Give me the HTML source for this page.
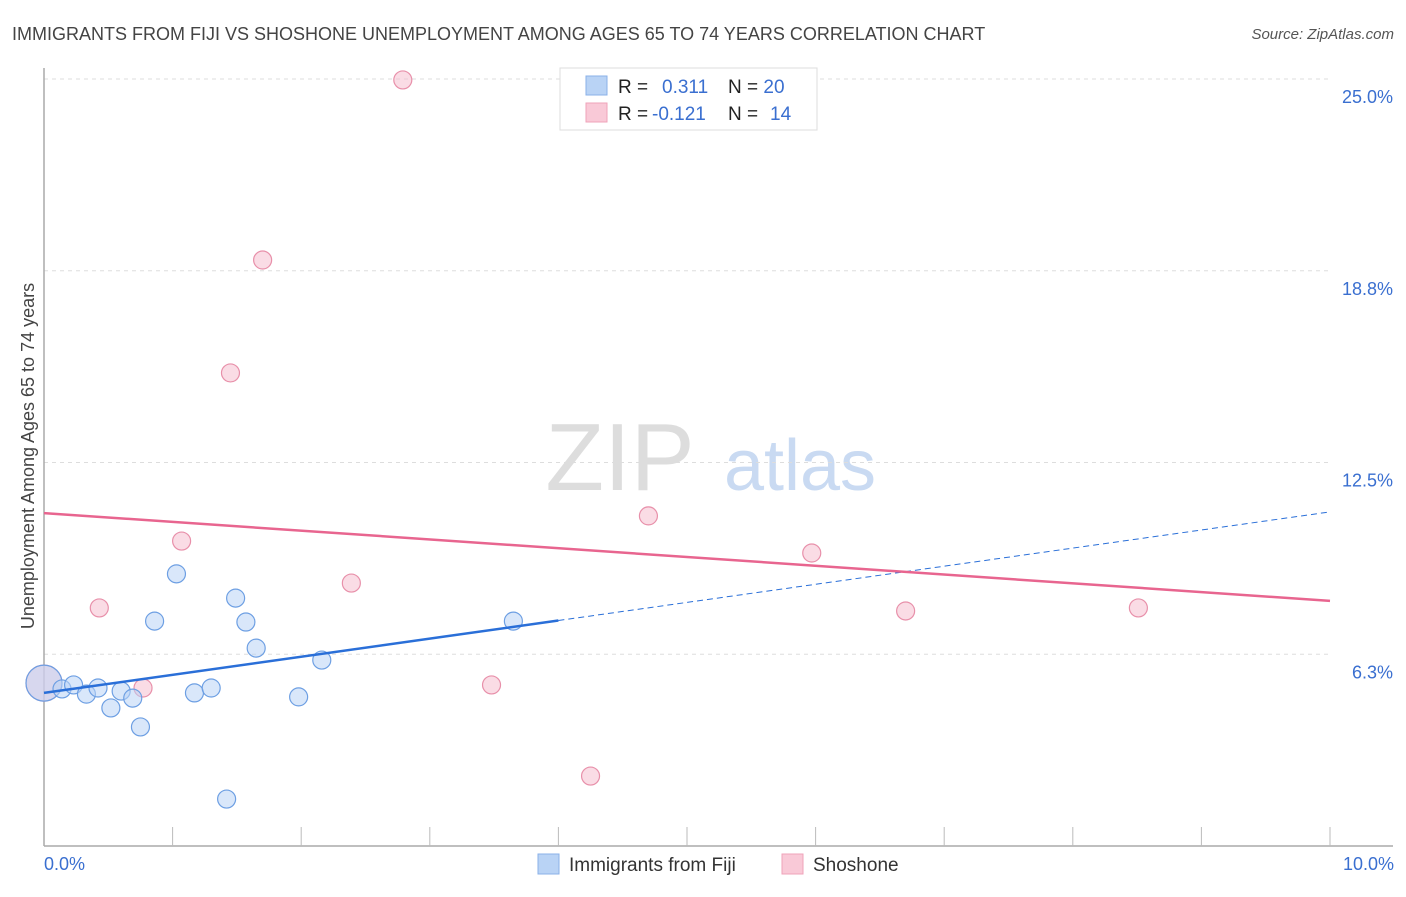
<!DOCTYPE html>
<html><head><meta charset="utf-8"><style>
body{margin:0;background:#fff;font-family:"Liberation Sans",sans-serif;}
svg text{font-family:"Liberation Sans",sans-serif;}
</style></head><body>
<svg id="chart" width="1406" height="892">
<text x="12" y="40" font-size="18" fill="#444">IMMIGRANTS FROM FIJI VS SHOSHONE UNEMPLOYMENT AMONG AGES 65 TO 74 YEARS CORRELATION CHART</text>
<text x="1394" y="39" font-size="15" fill="#555" text-anchor="end" font-style="italic">Source: ZipAtlas.com</text>
<text x="620" y="490" font-size="96" fill="#ddd" font-family="Liberation Serif" text-anchor="middle">ZIP</text>
<text x="800" y="490" font-size="72" fill="#c9daf2" text-anchor="middle">atlas</text>
<g id="grid"></g>
<g id="axes"></g>
<g id="marks"></g>
<text transform="translate(34,456) rotate(-90)" font-size="18" fill="#444" text-anchor="middle">Unemployment Among Ages 65 to 74 years</text>
<text x="44" y="870" font-size="18" fill="#3a6fd0">0.0%</text>
<text x="1394" y="870" font-size="18" fill="#3a6fd0" text-anchor="end">10.0%</text>
<g>
<rect x="560" y="68" width="257" height="62" fill="#fff" stroke="#ddd"/>
<rect x="586" y="76" width="21" height="19" fill="#b9d3f5" stroke="#8ab0e8"/>
<rect x="586" y="103" width="21" height="19" fill="#f9c9d7" stroke="#efa3ba"/>
<text x="618" y="93" font-size="19" fill="#222">R = <tspan fill="#3a6fd0" x="662">0.311</tspan><tspan x="728" fill="#222">N = </tspan><tspan fill="#3a6fd0">20</tspan></text>
<text x="618" y="120" font-size="19" fill="#222">R = <tspan fill="#3a6fd0" x="652">-0.121</tspan><tspan x="728" fill="#222">N = </tspan><tspan fill="#3a6fd0" x="770">14</tspan></text>
</g>
<g>
<rect x="538" y="854" width="21" height="20" fill="#b9d3f5" stroke="#8ab0e8"/>
<text x="569" y="871" font-size="19" fill="#333">Immigrants from Fiji</text>
<rect x="782" y="854" width="21" height="20" fill="#f9c9d7" stroke="#efa3ba"/>
<text x="813" y="871" font-size="19" fill="#333">Shoshone</text>
</g>
</svg>
<script>
const yTicks=[6.25,12.5,18.75,25];
const yTickLabels=["6.3%","12.5%","18.8%","25.0%"];
const xTicks=[1,2,3,4,5,6,7,8,9,10];
const fijiX=[0,0.14,0.23,0.33,0.42,0.52,0.60,0.69,0.75,0.86,1.03,1.17,1.30,1.42,1.49,1.57,1.65,1.98,2.16,3.65];
const fijiY=[5.31,5.12,5.25,4.95,5.15,4.50,5.05,4.82,3.88,7.33,8.87,4.99,5.15,1.53,8.08,7.30,6.45,4.86,6.06,7.33];
const shoX=[0,0.43,0.77,1.07,1.45,1.70,2.39,2.79,3.48,4.25,4.70,5.97,6.70,8.51];
const shoY=[5.31,7.76,5.15,9.94,15.42,19.10,8.57,24.97,5.25,2.28,10.76,9.55,7.66,7.76];
const fijiTrend=[4.99,10.89];
const shoTrend=[10.85,7.99];
const fijiSolidEnd=4.0;
const X=v=>44+v*128.6, Y=v=>846-v*30.68;
const NS="http://www.w3.org/2000/svg";
function mk(parent,tag,attrs){const e=document.createElementNS(NS,tag);for(const k in attrs)e.setAttribute(k,attrs[k]);document.getElementById(parent).appendChild(e);return e;}
yTicks.forEach((t,i)=>{
 const l=mk('grid','line',{x1:44,x2:1330,y1:Y(t),y2:Y(t),stroke:'#ddd','stroke-dasharray':'4,4'});
 
 
 const tx=mk('grid','text',{x:1393,y:Y(t)+24,'font-size':18,fill:'#3a6fd0','text-anchor':'end'});
 tx.textContent=yTickLabels[i];
 
 
});
const ya=mk('axes','line',{x1:44,x2:44,y1:68,y2:846,stroke:'#aaa','stroke-width':1.5});


const xa=mk('axes','line',{x1:44,x2:1393,y1:846,y2:846,stroke:'#aaa','stroke-width':1.5});


xTicks.forEach(t=>{
 const l=mk('axes','line',{x1:X(t),x2:X(t),y1:827,y2:846,stroke:'#bbb'});
 
 
});
function dots(xs,ys,fill,stroke,name){
 xs.forEach((x,i)=>{
  const r=(x===0)?18:9;
  const c=mk('marks','circle',{cx:X(x),cy:Y(ys[i]),r:r,fill:fill,'fill-opacity':0.55,stroke:stroke,'stroke-width':1.2});
  
  
 });
}
dots(shoX,shoY,'#f6c0cf','#e890aa','shoshone-point');
dots(fijiX,fijiY,'#b9d3f5','#6d9fe3','fiji-point');
const fy=x=>fijiTrend[0]+(fijiTrend[1]-fijiTrend[0])*x/10;
const s=mk('marks','line',{x1:X(0),y1:Y(fy(0)),x2:X(fijiSolidEnd),y2:Y(fy(fijiSolidEnd)),stroke:'#2a6fd8','stroke-width':2.5});


const d=mk('marks','line',{x1:X(fijiSolidEnd),y1:Y(fy(fijiSolidEnd)),x2:X(10),y2:Y(fy(10)),stroke:'#2a6fd8','stroke-width':1,'stroke-dasharray':'6,4'});


const p=mk('marks','line',{x1:X(0),y1:Y(shoTrend[0]),x2:X(10),y2:Y(shoTrend[1]),stroke:'#e8658f','stroke-width':2.5});


</script>
</body></html>
